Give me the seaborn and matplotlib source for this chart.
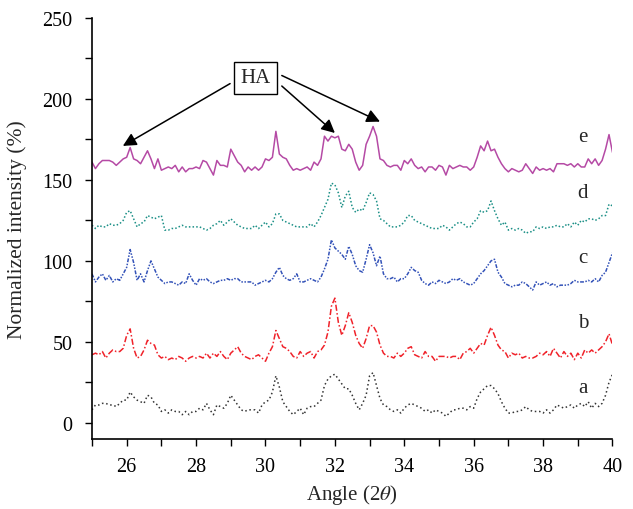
import numpy as np
import matplotlib
matplotlib.use("Agg")
import matplotlib.pyplot as plt
import seaborn as sns

# 2-theta grid (degrees)
angle = [round(25 + 0.1 * i, 1) for i in range(151)]

series_a = [8, 11, 11, 12, 12, 11, 11, 10, 12, 14,
            14, 19, 16, 14, 13, 12, 17, 16, 12, 11,
            7, 8, 6, 8, 7, 7, 5, 7, 5, 7,
            7, 9, 8, 12, 8, 5, 11, 10, 9, 12,
            17, 14, 11, 8, 7, 8, 8, 8, 6, 11,
            13, 14, 19, 29, 22, 13, 10, 7, 5, 7,
            9, 5, 9, 10, 10, 12, 14, 23, 27, 29,
            30, 27, 24, 21, 21, 17, 12, 8, 12, 17,
            29, 31, 23, 15, 11, 10, 8, 7, 8, 6,
            9, 11, 12, 11, 10, 9, 7, 8, 6, 8,
            7, 6, 4, 6, 8, 8, 9, 9, 8, 10,
            9, 15, 19, 21, 23, 23, 21, 18, 13, 9,
            6, 6, 7, 7, 8, 10, 8, 7, 7, 7,
            6, 8, 6, 8, 11, 10, 9, 10, 11, 9,
            11, 12, 10, 13, 9, 12, 10, 12, 17, 25,
            30]

series_b = [42, 43, 42, 44, 40, 43, 45, 44, 44, 46,
            54, 58, 46, 40, 41, 45, 51, 49, 48, 42,
            40, 41, 39, 40, 39, 41, 40, 38, 40, 41,
            40, 41, 40, 43, 40, 43, 41, 44, 41, 39,
            43, 45, 47, 43, 41, 40, 39, 41, 42, 40,
            38, 43, 47, 57, 52, 47, 46, 44, 41, 40,
            44, 41, 43, 44, 40, 44, 45, 48, 56, 72,
            77, 62, 54, 60, 68, 62, 54, 49, 46, 52,
            60, 60, 56, 48, 43, 41, 41, 40, 43, 41,
            43, 46, 47, 42, 41, 40, 44, 41, 41, 38,
            41, 41, 41, 40, 41, 41, 39, 43, 44, 46,
            43, 46, 49, 48, 54, 59, 54, 48, 45, 44,
            40, 43, 42, 43, 40, 41, 40, 40, 41, 43,
            42, 44, 41, 46, 43, 40, 44, 41, 43, 39,
            43, 40, 45, 43, 45, 43, 45, 47, 50, 55,
            48]

series_c = [92, 87, 90, 92, 88, 91, 87, 89, 88, 92,
            96, 107, 99, 88, 92, 87, 94, 100, 95, 90,
            88, 86, 87, 87, 86, 85, 87, 86, 92, 88,
            85, 89, 88, 89, 87, 86, 87, 88, 88, 89,
            88, 89, 89, 87, 87, 87, 87, 85, 86, 87,
            88, 87, 89, 93, 96, 91, 89, 88, 89, 92,
            87, 87, 88, 89, 88, 87, 90, 95, 101, 113,
            108, 106, 104, 101, 109, 104, 97, 94, 93, 101,
            110, 105, 97, 103, 92, 89, 89, 90, 87, 89,
            89, 92, 96, 94, 93, 88, 86, 85, 87, 86,
            88, 87, 86, 87, 89, 88, 89, 87, 86, 85,
            86, 89, 92, 94, 97, 100, 101, 93, 90, 86,
            85, 84, 85, 85, 87, 86, 84, 82, 87, 85,
            86, 87, 85, 86, 84, 85, 85, 85, 86, 88,
            87, 87, 87, 88, 87, 89, 87, 91, 93, 99,
            105]

series_d = [122, 120, 122, 121, 121, 123, 122, 122, 123, 125,
            130, 131, 126, 121, 123, 124, 128, 127, 126, 127,
            128, 119, 119, 120, 120, 121, 122, 121, 121, 121,
            121, 121, 120, 119, 120, 122, 123, 125, 122, 124,
            126, 124, 122, 121, 120, 120, 120, 122, 120, 122,
            124, 121, 123, 129, 129, 125, 124, 123, 122, 121,
            121, 121, 121, 123, 121, 124, 128, 133, 138, 148,
            147, 142, 133, 140, 143, 133, 130, 132, 131, 136,
            142, 141, 137, 126, 125, 123, 121, 121, 121, 122,
            124, 128, 128, 125, 124, 123, 122, 121, 120, 120,
            120, 122, 121, 119, 121, 123, 124, 123, 121, 121,
            124, 126, 131, 130, 131, 137, 131, 126, 122, 124,
            119, 120, 119, 120, 119, 117, 118, 118, 121, 120,
            121, 120, 121, 121, 122, 121, 121, 123, 121, 124,
            122, 125, 124, 126, 126, 125, 126, 128, 128, 135,
            134]

series_e = [161, 157, 160, 162, 162, 162, 161, 159, 161, 163,
            164, 170, 163, 162, 160, 164, 168, 163, 157, 163,
            156, 157, 158, 157, 159, 155, 158, 155, 157, 157,
            158, 157, 162, 161, 157, 153, 162, 159, 159, 158,
            169, 165, 161, 159, 155, 158, 156, 158, 156, 158,
            163, 162, 164, 180, 166, 164, 163, 159, 156, 157,
            156, 157, 158, 156, 161, 159, 163, 177, 174, 177,
            176, 177, 169, 168, 172, 169, 161, 156, 159, 172,
            177, 183, 177, 163, 162, 159, 158, 159, 159, 156,
            162, 160, 163, 159, 157, 158, 155, 158, 158, 156,
            159, 158, 153, 159, 157, 158, 159, 158, 158, 156,
            158, 164, 171, 168, 174, 168, 169, 164, 160, 157,
            155, 157, 156, 155, 156, 160, 157, 154, 158, 156,
            157, 156, 157, 155, 160, 160, 160, 159, 160, 158,
            160, 158, 158, 163, 160, 163, 159, 162, 169, 178,
            167]

labels = ["a", "b", "c", "d", "e"]
label_y = [22, 62, 102, 142, 177]
y_ticks = [0, 50, 100, 150, 200, 250]
x_ticks = [26, 28, 30, 32, 34, 36, 38, 40]
ha_tips = [(25.89, 171), (32.0, 179), (33.3, 186)]

sns.set_style("ticks")
plt.rcParams["font.family"] = ["Liberation Serif", "DejaVu Serif"]
plt.rcParams["mathtext.fontset"] = "stix"

fig = plt.figure(figsize=(6.33, 5.10), dpi=100)
ax = fig.add_axes([0.1453, 0.1373, 0.8223, 0.8254])

styles = [
    (series_a, "#333333", (0, (1, 1.8))),
    (series_b, "#f0222a", (0, (4, 1.5, 1, 1.5))),
    (series_c, "#3352b8", (0, (2.5, 1, 1, 1, 1, 1))),
    (series_d, "#1a8f86", (0, (1, 1.4))),
    (series_e, "#b54aa5", "-"),
]
for vals, col, ls in styles:
    sns.lineplot(x=angle, y=vals, color=col, linestyle=ls, linewidth=1.1, ax=ax)

for lab, ly in zip(labels, label_y):
    ax.text(39.15, ly, lab, fontsize=15, ha="center", va="center")

ax.text(29.72, 213, "HA", fontsize=15, ha="center", va="center",
        bbox=dict(boxstyle="square,pad=0.3", fc="white", ec="black", lw=1.0))
starts = [(28.98, 209.5), (30.47, 208), (30.47, 214.5)]
for (sx, sy), (tx, ty) in zip(starts, ha_tips):
    ax.annotate("", xy=(tx, ty), xytext=(sx, sy),
                arrowprops=dict(arrowstyle="-|>", color="black", lw=1.1,
                                mutation_scale=20, shrinkA=0, shrinkB=0))

ax.set_xlim(25, 40)
ax.set_ylim(-10, 250)
ax.set_xticks(np.arange(25, 41, 1))
ax.set_xticklabels([str(t) if t in x_ticks else "" for t in range(25, 41)])
ax.set_yticks(np.arange(0, 251, 25))
ax.set_yticklabels([str(t) if t in y_ticks else "" for t in range(0, 251, 25)])
ax.tick_params(axis="x", direction="out", length=5, width=1.0,
               labelsize=14.5, colors="black", pad=8)
ax.tick_params(axis="y", direction="out", length=5, width=1.0,
               labelsize=14.5, colors="black", pad=9)
for s in ["top", "right"]:
    ax.spines[s].set_visible(False)
for s in ["left", "bottom"]:
    ax.spines[s].set_linewidth(1.2)
    ax.spines[s].set_color("black")

ax.set_xlabel(r"Angle (2$\theta$)", fontsize=15, labelpad=4)
ax.set_ylabel("Normalized intensity (%)", fontsize=15.5, labelpad=11)

fig.savefig("out.png", dpi=100)
